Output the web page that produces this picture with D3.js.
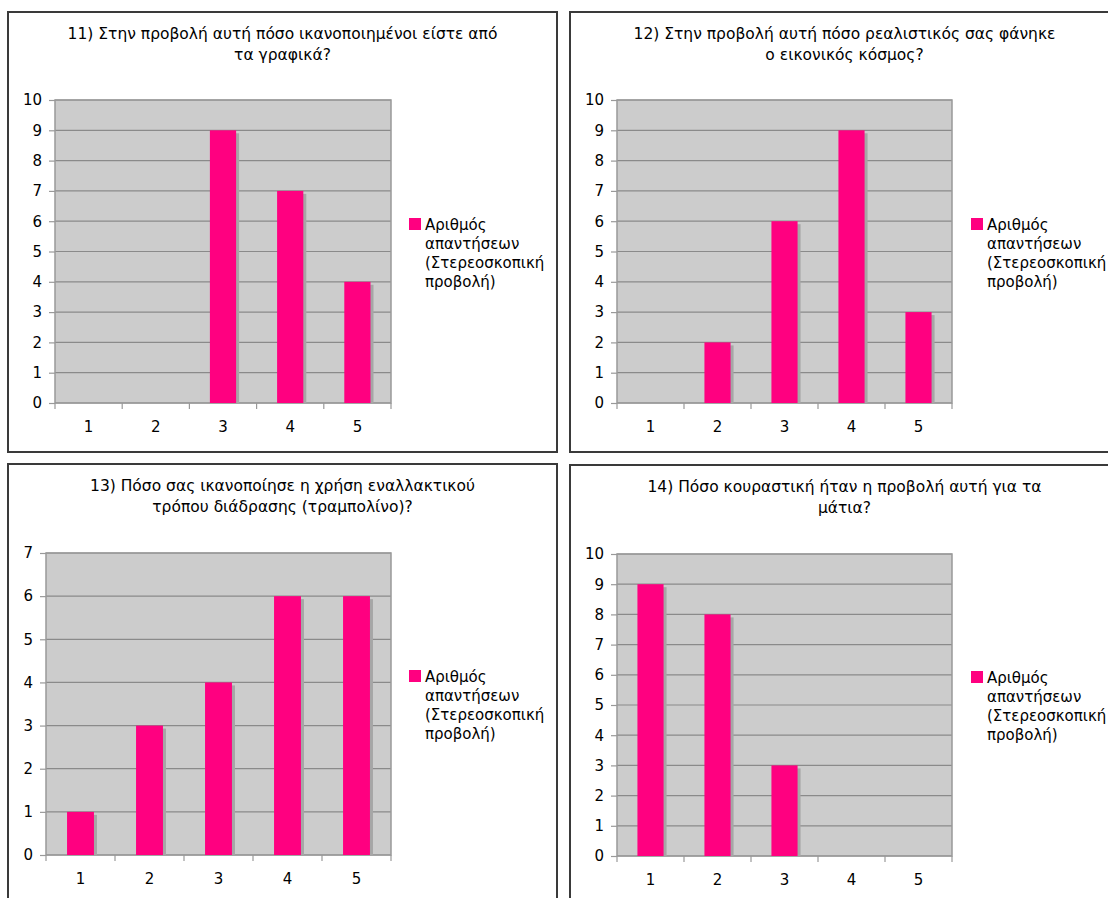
<!DOCTYPE html>
<html>
<head>
<meta charset="utf-8">
<script src="https://cdn.jsdelivr.net/npm/d3@7"></script>
<style>
  html, body { margin: 0; padding: 0; background: #fff; }
  svg { display: block; }
  text { font-family: "DejaVu Sans", Verdana, sans-serif; fill: #000; }
</style>
</head>
<body>
<svg id="chart" width="1108" height="898"></svg>
<script>
// Answer categories (rating scale 1-5)
const categories = ["1", "2", "3", "4", "5"];

// Number of answers per rating, one array per question
const q11Values = [0, 0, 9, 7, 4];
const q12Values = [0, 2, 6, 9, 3];
const q13Values = [1, 3, 4, 6, 6];
const q14Values = [9, 8, 3, 0, 0];

// Question titles (two lines each)
const q11Title = ["11) Στην προβολή αυτή πόσο ικανοποιημένοι είστε από", "τα γραφικά?"];
const q12Title = ["12) Στην προβολή αυτή πόσο ρεαλιστικός σας φάνηκε", "ο εικονικός κόσμος?"];
const q13Title = ["13) Πόσο σας ικανοποίησε η χρήση εναλλακτικού", "τρόπου διάδρασης (τραμπολίνο)?"];
const q14Title = ["14) Πόσο κουραστική ήταν η προβολή αυτή για τα", "μάτια?"];

// Y-axis maxima
const yMaxes = [10, 10, 7, 10];

// Legend label lines
const legendLines = ["Αριθμός", "απαντήσεων", "(Στερεοσκοπική", "προβολή)"];

const svg = d3.select("#chart");

const PINK = "#ff0080";
const PLOT_BG = "#cccccc";
const GRID = "#8a8a8a";

// Frame boxes and plot rectangles for the 2x2 grid
const panels = [
  { values: q11Values, title: q11Title, yMax: yMaxes[0],
    box: { x: 8, y: 12, w: 549, h: 440 }, plot: { x0: 55, x1: 391, y0: 100, y1: 403 } },
  { values: q12Values, title: q12Title, yMax: yMaxes[1],
    box: { x: 570, y: 12, w: 549, h: 440 }, plot: { x0: 617, x1: 952, y0: 100, y1: 403 } },
  { values: q13Values, title: q13Title, yMax: yMaxes[2],
    box: { x: 8, y: 464, w: 549, h: 450 }, plot: { x0: 46, x1: 391, y0: 553, y1: 855 } },
  { values: q14Values, title: q14Title, yMax: yMaxes[3],
    box: { x: 570, y: 465, w: 549, h: 450 }, plot: { x0: 617, x1: 952, y0: 554, y1: 856 } }
];

panels.forEach(p => {
  const g = svg.append("g");
  const b = p.box, r = p.plot;

  // outer frame
  g.append("rect")
    .attr("x", b.x).attr("y", b.y).attr("width", b.w).attr("height", b.h)
    .attr("fill", "#fff").attr("stroke", "#3a3a3a").attr("stroke-width", 2);

  // title
  const title = g.append("text")
    .attr("text-anchor", "middle")
    .style("font-size", "15.5px");
  p.title.forEach((line, i) => {
    title.append("tspan")
      .attr("x", b.x + b.w / 2)
      .attr("y", b.y + 27 + i * 21)
      .text(line);
  });

  const x = d3.scaleBand().domain(categories).range([r.x0, r.x1]).paddingInner(0).paddingOuter(0);
  const y = d3.scaleLinear().domain([0, p.yMax]).range([r.y1, r.y0]);

  // plot background
  g.append("rect")
    .attr("x", r.x0).attr("y", r.y0)
    .attr("width", r.x1 - r.x0).attr("height", r.y1 - r.y0)
    .attr("fill", PLOT_BG);

  // horizontal gridlines
  g.append("g").selectAll("line")
    .data(d3.range(0, p.yMax + 1))
    .join("line")
    .attr("x1", r.x0).attr("x2", r.x1)
    .attr("y1", d => y(d)).attr("y2", d => y(d))
    .attr("stroke", GRID).attr("stroke-width", 1.2);

  // plot outline
  g.append("rect")
    .attr("x", r.x0).attr("y", r.y0)
    .attr("width", r.x1 - r.x0).attr("height", r.y1 - r.y0)
    .attr("fill", "none").attr("stroke", "#999").attr("stroke-width", 1.5);

  // y axis
  const yAxis = d3.axisLeft(y).ticks(p.yMax).tickSize(6).tickPadding(7).tickFormat(d3.format("d"));
  const ya = g.append("g").attr("transform", `translate(${r.x0},0)`).call(yAxis);
  ya.select(".domain").remove();
  ya.selectAll(".tick line").attr("stroke", "#999").attr("stroke-width", 1.2);
  ya.selectAll(".tick text").style("font-size", "15px").attr("fill", "#000");

  // x axis: ticks at category boundaries, labels at centres
  const boundaries = d3.range(0, categories.length + 1).map(i => r.x0 + i * x.bandwidth());
  g.append("g").selectAll("line")
    .data(boundaries)
    .join("line")
    .attr("x1", d => d).attr("x2", d => d)
    .attr("y1", r.y1).attr("y2", r.y1 + 6)
    .attr("stroke", "#999").attr("stroke-width", 1.2);
  g.append("g").selectAll("text")
    .data(categories)
    .join("text")
    .attr("x", d => x(d) + x.bandwidth() / 2)
    .attr("y", r.y1 + 24)
    .attr("text-anchor", "middle")
    .attr("dominant-baseline", "central")
    .style("font-size", "15px")
    .text(d => d);

  // bars with drop shadow
  const barW = x.bandwidth() * 0.39;
  const data = categories.map((c, i) => ({ c, v: p.values[i] })).filter(d => d.v > 0);
  g.append("g").selectAll("rect")
    .data(data)
    .join("rect")
    .attr("x", d => x(d.c) + (x.bandwidth() - barW) / 2 + 3)
    .attr("y", d => y(d.v) + 3)
    .attr("width", barW)
    .attr("height", d => y(0) - y(d.v) - 3)
    .attr("fill", "#a6a6a6");
  g.append("g").selectAll("rect")
    .data(data)
    .join("rect")
    .attr("x", d => x(d.c) + (x.bandwidth() - barW) / 2)
    .attr("y", d => y(d.v))
    .attr("width", barW)
    .attr("height", d => y(0) - y(d.v))
    .attr("fill", PINK);

  // legend
  const lx = b.x + 401, ly = b.y + 206;
  g.append("rect")
    .attr("x", lx).attr("y", ly).attr("width", 12).attr("height", 12)
    .attr("fill", PINK);
  const lt = g.append("text").style("font-size", "15px");
  legendLines.forEach((line, i) => {
    lt.append("tspan")
      .attr("x", lx + 16)
      .attr("y", ly + 7 + i * 19)
      .attr("dominant-baseline", "central")
      .text(line);
  });
});
</script>
</body>
</html>
